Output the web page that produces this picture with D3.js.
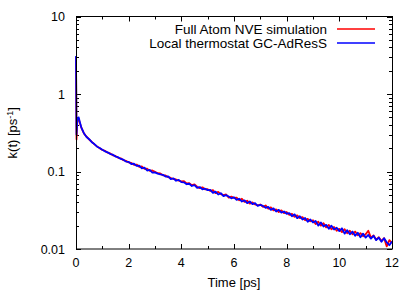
<!DOCTYPE html>
<html>
<head>
<meta charset="utf-8">
<script src="https://cdn.jsdelivr.net/npm/d3@7"></script>
<style>
  body { margin: 0; background: #fff; }
  text { font-family: "Liberation Sans", Arial, sans-serif; fill: #000; }
</style>
</head>
<body>
<svg id="chart" width="415" height="294"></svg>
<script>
// time axis samples [ps]
var times = [0, 0.02, 0.05, 0.1, 0.15,
  0.2, 0.3, 0.4, 0.5, 0.6, 0.7, 0.8, 0.9,
  1.0, 1.1, 1.2, 1.3, 1.4, 1.5, 1.6, 1.7, 1.8, 1.9,
  2.0, 2.1, 2.2, 2.3, 2.4, 2.5, 2.6, 2.7, 2.8, 2.9,
  3.0, 3.1, 3.2, 3.3, 3.4, 3.5, 3.6, 3.7, 3.8, 3.9,
  4.0, 4.1, 4.2, 4.3, 4.4, 4.5, 4.6, 4.7, 4.8, 4.9,
  5.0, 5.1, 5.2, 5.3, 5.4, 5.5, 5.6, 5.7, 5.8, 5.9,
  6.0, 6.1, 6.2, 6.3, 6.4, 6.5, 6.6, 6.7, 6.8, 6.9,
  7.0, 7.1, 7.2, 7.3, 7.4, 7.5, 7.6, 7.7, 7.8, 7.9,
  8.0, 8.1, 8.2, 8.3, 8.4, 8.5, 8.6, 8.7, 8.8, 8.9,
  9.0, 9.1, 9.2, 9.3, 9.4, 9.5, 9.6, 9.7, 9.8, 9.9,
  10.0, 10.1, 10.2, 10.3, 10.4, 10.5, 10.6, 10.7, 10.8, 10.9,
  11.0, 11.1, 11.2, 11.3, 11.4, 11.5, 11.6, 11.7, 11.8, 11.9,
  12.0];

// Full Atom NVE simulation
var kNVE = [3.0, 0.26, 0.44, 0.48, 0.42,
  0.370, 0.310, 0.281, 0.259, 0.241, 0.224, 0.211, 0.200,
  0.190, 0.185, 0.175, 0.171, 0.162, 0.159, 0.150, 0.148, 0.140, 0.137,
  0.131, 0.129, 0.122, 0.123, 0.115, 0.116, 0.108, 0.109, 0.102, 0.103,
  0.0990, 0.0950, 0.0945, 0.0895, 0.0890, 0.0845, 0.0825, 0.0800, 0.0790, 0.0760,
  0.0745, 0.0750, 0.0700, 0.0705, 0.0665, 0.0680, 0.0635, 0.0610, 0.0625, 0.0590,
  0.0590, 0.0560, 0.0575, 0.0525, 0.0545, 0.0510, 0.0495, 0.0505, 0.0460, 0.0475,
  0.0455, 0.0460, 0.0425, 0.0445, 0.0405, 0.0420, 0.0385, 0.0400, 0.0375, 0.0365,
  0.0375, 0.0350, 0.0365, 0.0330, 0.0345, 0.0315, 0.0325, 0.0300, 0.0315, 0.0290,
  0.0300, 0.0275, 0.0285, 0.0260, 0.0272, 0.0250, 0.0258, 0.0235, 0.0245, 0.0228,
  0.0235, 0.0210, 0.0225, 0.0200, 0.0215, 0.0190, 0.0205, 0.0180, 0.0192, 0.0172,
  0.0182, 0.0165, 0.0180, 0.0160, 0.0172, 0.0155, 0.0168, 0.0150, 0.0160, 0.0146,
  0.0155, 0.0172, 0.0140, 0.0150, 0.0132, 0.0142, 0.0127, 0.0138, 0.0108, 0.0130,
  0.0120];

// Local thermostat GC-AdResS
var kAdResS = [3.1, 0.30, 0.47, 0.50, 0.43,
  0.372, 0.312, 0.279, 0.261, 0.239, 0.226, 0.209, 0.201,
  0.191, 0.182, 0.177, 0.168, 0.165, 0.156, 0.153, 0.145, 0.142, 0.134,
  0.133, 0.125, 0.126, 0.118, 0.119, 0.110, 0.112, 0.103, 0.105, 0.0970,
  0.0975, 0.0940, 0.0920, 0.0905, 0.0860, 0.0865, 0.0800, 0.0815, 0.0760, 0.0780,
  0.0730, 0.0725, 0.0685, 0.0695, 0.0650, 0.0665, 0.0615, 0.0630, 0.0590, 0.0600,
  0.0575, 0.0580, 0.0530, 0.0550, 0.0505, 0.0525, 0.0480, 0.0495, 0.0475, 0.0450,
  0.0465, 0.0430, 0.0445, 0.0410, 0.0425, 0.0390, 0.0410, 0.0380, 0.0390, 0.0360,
  0.0370, 0.0360, 0.0340, 0.0350, 0.0320, 0.0335, 0.0305, 0.0320, 0.0295, 0.0305,
  0.0285, 0.0290, 0.0265, 0.0280, 0.0250, 0.0265, 0.0240, 0.0252, 0.0225, 0.0240,
  0.0220, 0.0230, 0.0200, 0.0220, 0.0195, 0.0205, 0.0182, 0.0200, 0.0178, 0.0188,
  0.0170, 0.0185, 0.0158, 0.0175, 0.0155, 0.0168, 0.0148, 0.0162, 0.0142, 0.0158,
  0.0140, 0.0152, 0.0136, 0.0148, 0.0130, 0.0140, 0.0124, 0.0138, 0.0122, 0.0112,
  0.0125];

var seriesNames = ["Full Atom NVE simulation", "Local thermostat GC-AdResS"];
var seriesColors = ["#ff0000", "#0000ff"];
var xTicks = [0, 2, 4, 6, 8, 10, 12];
var xMinor = [1, 3, 5, 7, 9, 11];
var yTicks = [0.01, 0.1, 1, 10];
var yTickLabels = ["0.01", "0.1", "1", "10"];

var svg = d3.select("#chart");
var plotL = 76, plotR = 392, plotT = 16.5, plotB = 249;

var x = d3.scaleLinear().domain([0, 12]).range([plotL, plotR]);
var y = d3.scaleLog().domain([0.01, 10]).range([plotB, plotT]);

var yMinor = [];
[0.01, 0.1, 1].forEach(function(d) {
  for (var m = 2; m <= 9; m++) yMinor.push(d * m);
});

var g = svg.append("g");

// ticks (inward, mirrored)
var majLen = 5, minLen = 3;
function tick(x1, y1, x2, y2) {
  g.append("line").attr("x1", x1).attr("y1", y1).attr("x2", x2).attr("y2", y2)
    .attr("stroke", "#000").attr("stroke-width", 1);
}
xTicks.forEach(function(d) {
  var px = Math.round(x(d)) + 0.5;
  tick(px, plotB, px, plotB - majLen);
  tick(px, plotT, px, plotT + majLen);
});
xMinor.forEach(function(d) {
  var px = Math.round(x(d)) + 0.5;
  tick(px, plotB, px, plotB - minLen);
  tick(px, plotT, px, plotT + minLen);
});
yTicks.forEach(function(d) {
  var py = Math.round(y(d)) + 0.5;
  tick(plotL, py, plotL + majLen, py);
  tick(plotR, py, plotR - majLen, py);
});
yMinor.forEach(function(d) {
  var py = Math.round(y(d)) + 0.5;
  tick(plotL, py, plotL + minLen, py);
  tick(plotR, py, plotR - minLen, py);
});

// tick labels
xTicks.forEach(function(d) {
  g.append("text").attr("x", x(d)).attr("y", 267)
    .attr("text-anchor", "middle").style("font-size", "12.5px").text(d);
});
yTicks.forEach(function(d, i) {
  g.append("text").attr("x", 65).attr("y", y(d) + 4.5)
    .attr("text-anchor", "end").style("font-size", "12.5px").text(yTickLabels[i]);
});

// axis titles
g.append("text").attr("x", 234).attr("y", 287)
  .attr("text-anchor", "middle").style("font-size", "13px").text("Time [ps]");
var yl = g.append("text")
  .attr("transform", "translate(17," + ((plotT + plotB) / 2) + ") rotate(-90)")
  .attr("text-anchor", "middle").style("font-size", "13px");
yl.append("tspan").text("k(t) [ps");
yl.append("tspan").attr("dy", -4).style("font-size", "9px").text("-1");
yl.append("tspan").attr("dy", 4).text("]");

// curves
var line = d3.line().x(function(d) { return x(d[0]); }).y(function(d) { return y(d[1]); });
[kNVE, kAdResS].forEach(function(vals, i) {
  var pts = times.map(function(t, j) { return [t, vals[j]]; });
  g.append("path").datum(pts).attr("d", line)
    .attr("fill", "none").attr("stroke", seriesColors[i])
    .attr("stroke-width", 1.8).attr("stroke-linejoin", "round");
});

// border
g.append("rect").attr("x", plotL + 0.5).attr("y", plotT).attr("width", plotR - plotL)
  .attr("height", plotB - plotT).attr("fill", "none").attr("stroke", "#000").attr("stroke-width", 1);

// legend
seriesNames.forEach(function(name, i) {
  var ly = 29 + i * 14;
  g.append("text").attr("x", 327).attr("y", ly + 4.5)
    .attr("text-anchor", "end").style("font-size", "13.5px").text(name);
  g.append("line").attr("x1", 337).attr("x2", 375).attr("y1", ly).attr("y2", ly)
    .attr("stroke", seriesColors[i]).attr("stroke-width", 1.5);
});
</script>
</body>
</html>
